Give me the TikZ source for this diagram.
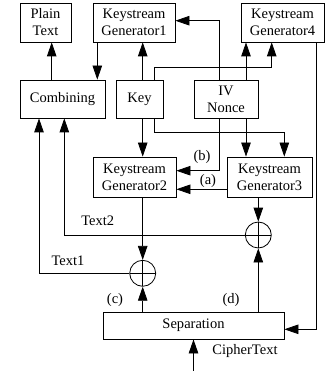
\documentclass[tikz,border=0pt]{standalone}
\usepackage{fontspec}
\setmainfont{Liberation Serif}
\usetikzlibrary{arrows.meta}
\begin{document}
\begin{tikzpicture}[x=1pt,y=-1pt,
  every node/.style={font=\fontsize{14.5}{17}\selectfont},
  box/.style={draw,line width=0.8pt,align=center,inner sep=0pt},
  xor/.style={draw,line width=0.8pt,circle,minimum size=26pt,inner sep=0pt,
    path picture={\draw[line width=0.8pt] (path picture bounding box.north) -- (path picture bounding box.south)
      (path picture bounding box.west) -- (path picture bounding box.east);}},
  arr/.style={line width=0.8pt,-{Triangle[length=14pt,width=9.5pt]}},
  lbl/.style={inner sep=0pt}]
\useasboundingbox (0,0) rectangle (333,371);
% boxes
\node[box,minimum width=51pt,minimum height=39pt] (PT) at (45.5,22.5) {Plain\\Text};
\node[box,minimum width=82pt,minimum height=39pt] (KG1) at (134,22.5) {Keystream\\Generator1};
\node[box,minimum width=83pt,minimum height=39pt] (KG4) at (282.5,22.5) {Keystream\\Generator4};
\node[box,minimum width=85pt,minimum height=38pt] (Comb) at (62.5,99) {Combining};
\node[box,minimum width=47pt,minimum height=38pt] (Key) at (139.5,99) {Key};
\node[box,minimum width=64pt,minimum height=38pt] (IV) at (226,99) {IV\\Nonce};
\node[box,minimum width=83pt,minimum height=40pt] (KG2) at (134.5,177) {Keystream\\Generator2};
\node[box,minimum width=85pt,minimum height=40pt] (KG3) at (269.5,177) {Keystream\\Generator3};
\node[xor] (X2) at (258.3,235) {};
\node[xor] (X1) at (142.7,273.3) {};
\node[box,minimum width=181pt,minimum height=27pt] (Sep) at (193.5,325.5) {Separation};
\coordinate (ct) at (193.5,371);
% connectors
\draw[arr] ([xshift=-10.8pt]Comb.north) -- ([xshift=-10.8pt]Comb.north |- PT.south);
\draw[arr] ([xshift=-36.7pt]KG1.south) -- ([xshift=-36.7pt]KG1.south |- Comb.north);
\draw[arr] ([xshift=3.2pt]Key.north) -- ([xshift=3.2pt]Key.north |- KG1.south);
\draw[arr] ([xshift=14.8pt]Key.north) -- ++(0,-11.7) -| ([xshift=-10.8pt]KG4.south);
\draw[arr] ([xshift=-6.7pt]IV.north) |- ([yshift=1.8pt]KG1.east);
\draw[arr] ([xshift=20pt]IV.north) -- ([xshift=20pt]IV.north |- KG4.south);
\draw[arr] ([xshift=34.2pt]KG4.south) |- ([yshift=-3.8pt]Sep.east);
\draw[arr] ([xshift=3.2pt]Key.south) -- ([xshift=3.2pt]Key.south |- KG2.north);
\draw[arr] ([xshift=14.8pt]Key.south) -- ++(0,13.7) -| ([xshift=14.8pt]KG3.north);
\draw[arr] ([xshift=20pt]IV.south) -- ([xshift=20pt]IV.south |- KG3.north);
\draw[arr] ([xshift=-6.7pt]IV.south) |- ([yshift=6.3pt]KG2.east);
\draw[arr] ([yshift=-12.3pt]KG3.west) -- ([yshift=-12.3pt]KG2.east);
\draw[arr] ([xshift=-11.2pt]KG3.south) -- (X2.north);
\draw[arr] (X2.west) -| ([xshift=1.8pt]Comb.south);
\draw[arr] ([xshift=8.2pt]KG2.south) -- (X1.north);
\draw[arr] (X1.west) -| ([xshift=-23.5pt]Comb.south);
\draw[arr] (X1.south |- Sep.north) -- (X1.south);
\draw[arr] (X2.south |- Sep.north) -- (X2.south);
\draw[arr] (ct) -- (Sep.south);
% labels
\node[lbl] at (202,157.5) {(b)};
\node[lbl] at (208,181) {(a)};
\node[lbl] at (97.7,221) {Text2};
\node[lbl] at (68,260.7) {Text1};
\node[lbl] at (115,300) {(c)};
\node[lbl] at (231,300) {(d)};
\node[lbl] at (245,351) {CipherText};
\end{tikzpicture}
\end{document}
